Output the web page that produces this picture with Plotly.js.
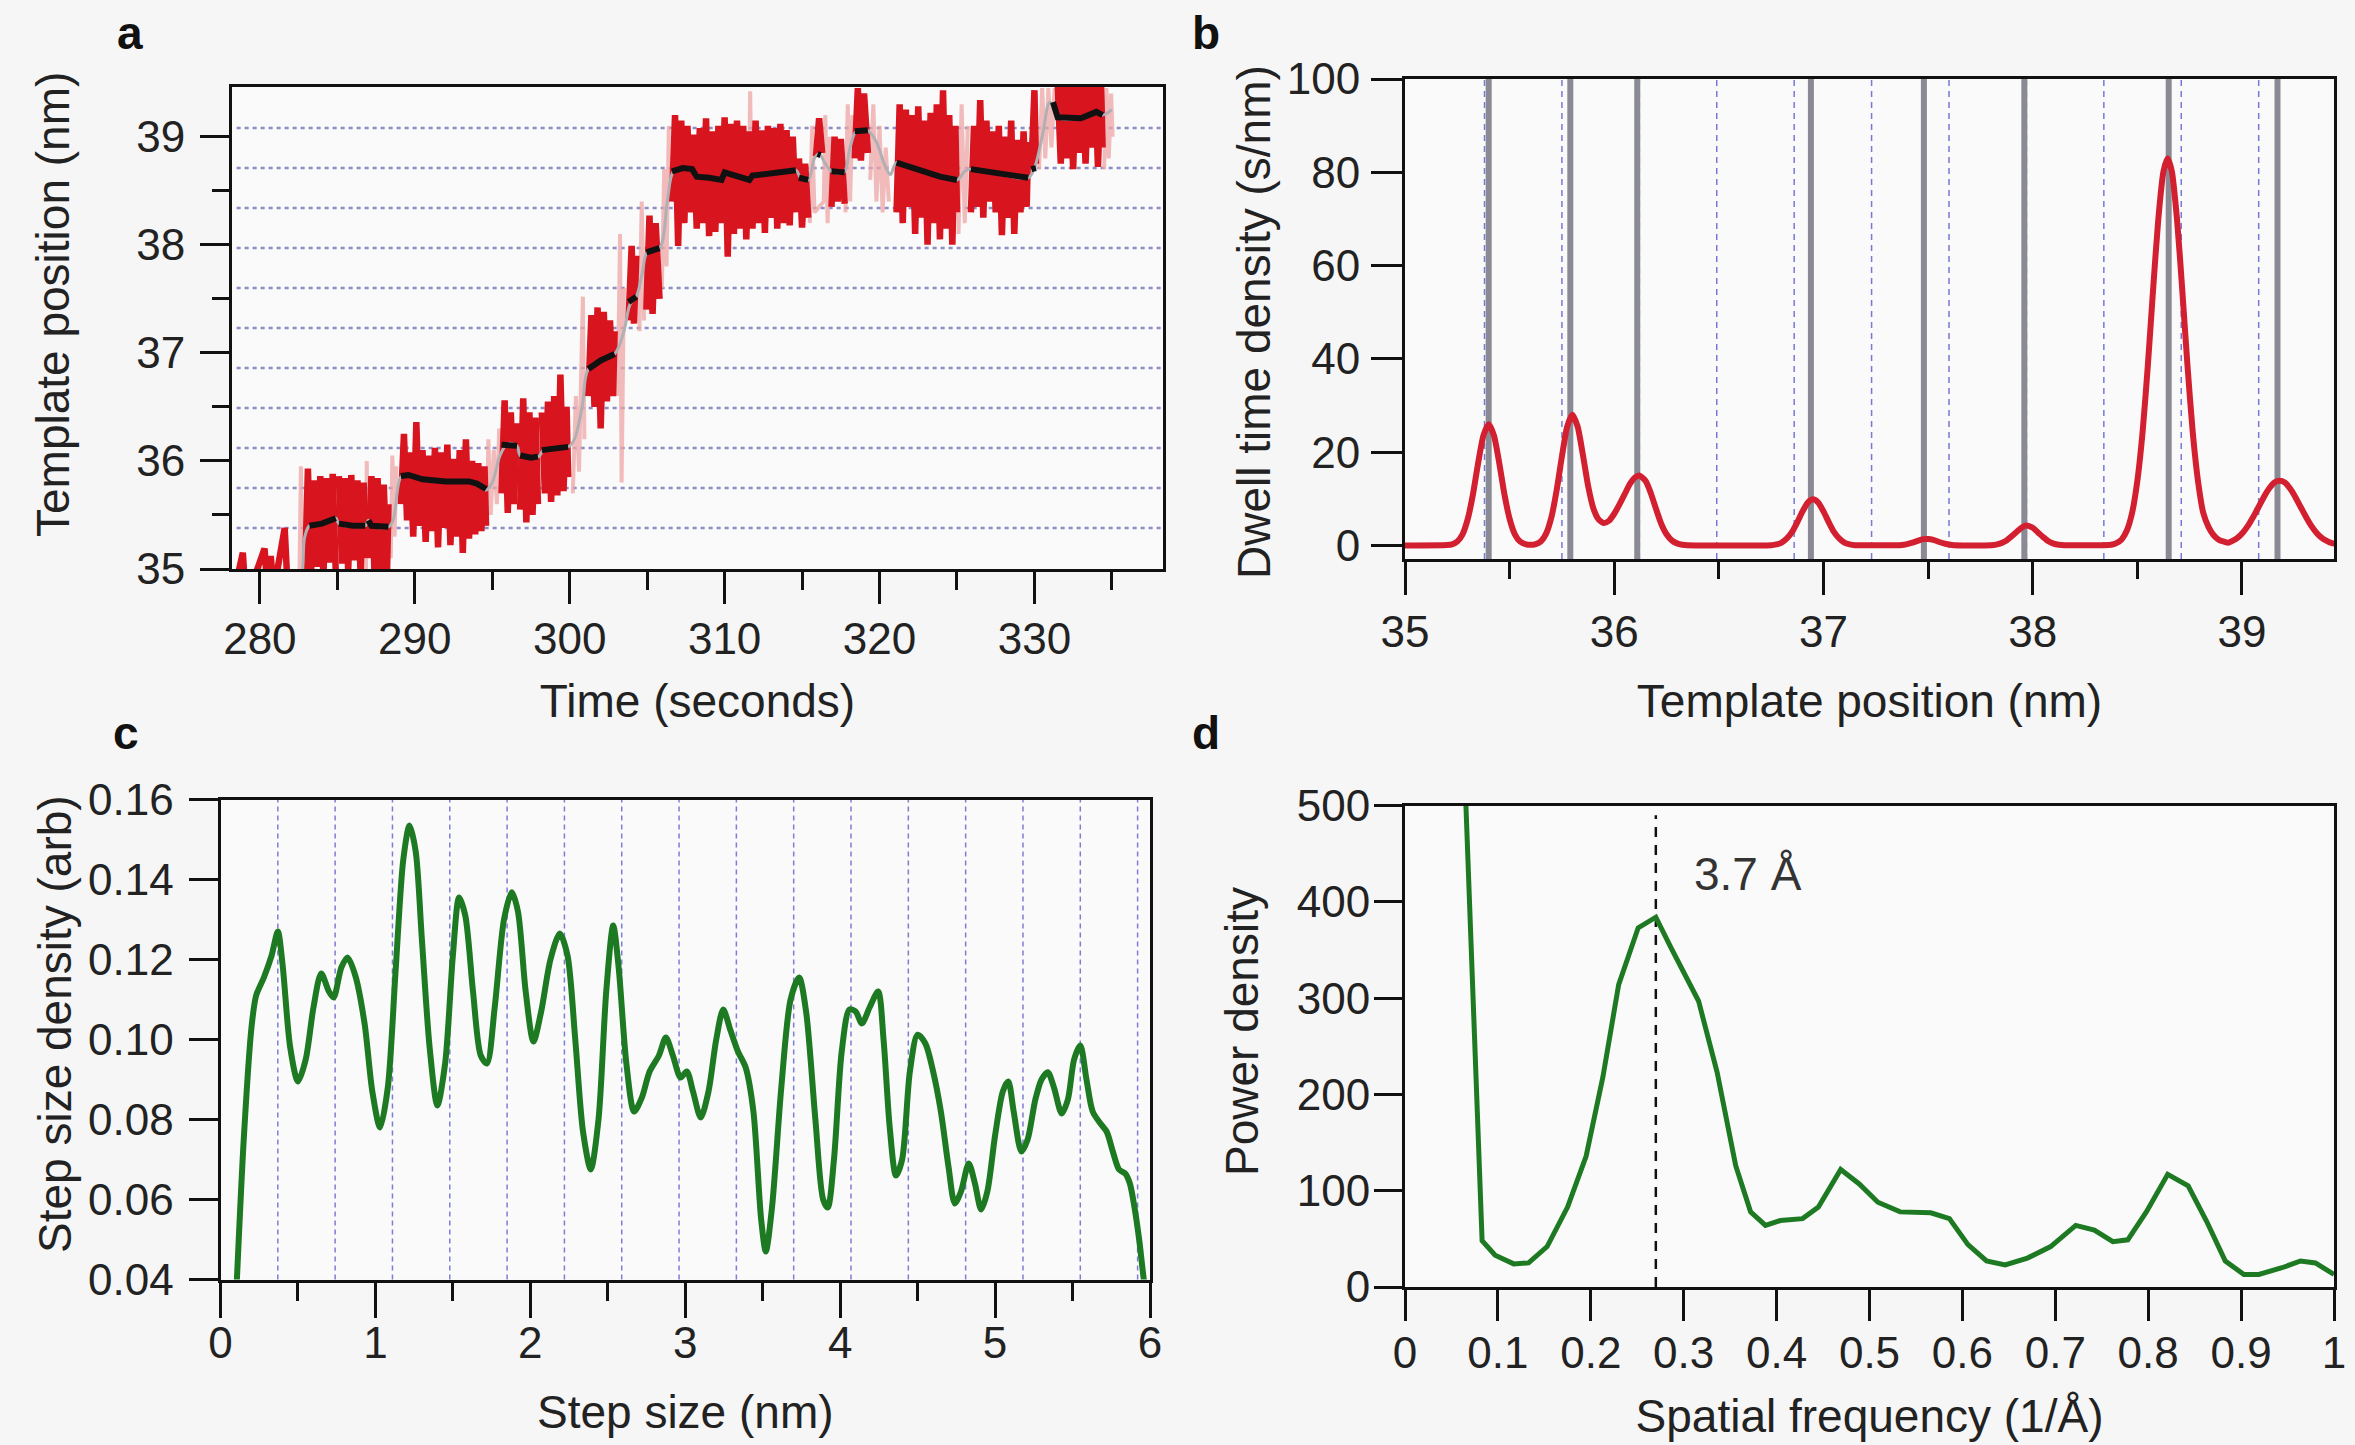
<!DOCTYPE html>
<html>
<head>
<meta charset="utf-8">
<script src="https://cdn.plot.ly/plotly-3.0.1.min.js"></script>
<style>html,body{margin:0;padding:0;background:#f6f6f6;}#chart{width:2355px;height:1445px;}</style>
</head>
<body>
<div id="chart"></div>
<script>
// ---------------- DATA ----------------
// Panel a: raw position trace (time s, position nm); null = gap
const rawTrace = [
[278.2,34.7],[278.9,35.15],[279.1,34.7],[280.3,35.19],[280.5,34.8],[280.7,35.12],[280.9,34.8],[281.6,35.38],[281.8,34.8],[282.2,null],
[282.9,34.9],[283.1,35.93],[283.3,34.95],[283.5,35.82],[283.7,35.02],[283.9,35.86],[284.1,34.92],[284.3,35.84],[284.5,35.06],[284.7,35.88],[284.9,34.96],[285.0,null],
[285.1,35.86],[285.3,35.05],[285.5,35.84],[285.7,34.98],[285.9,35.87],[286.1,35.08],[286.3,35.82],[286.5,34.95],[286.7,35.80],[286.8,35.10],[286.9,null],
[287.0,35.10],[287.2,35.86],[287.4,34.95],[287.6,35.84],[287.8,34.90],[288.0,35.78],[288.2,34.92],[288.3,35.60],[288.5,null],
[289.1,35.60],[289.3,36.25],[289.5,35.45],[289.7,36.08],[289.9,35.30],[290.1,36.36],[290.3,35.40],[290.5,36.10],[290.7,35.25],[290.9,36.05],[291.1,35.35],[291.3,36.12],[291.5,35.20],[291.7,36.08],[291.9,35.38],[292.1,36.15],[292.3,35.22],[292.5,36.02],[292.7,35.30],[292.9,36.10],[293.1,35.15],[293.3,36.20],[293.5,35.28],[293.7,36.00],[293.9,35.32],[294.1,35.98],[294.3,35.35],[294.5,35.95],[294.6,35.40],[294.8,null],
[295.6,35.70],[295.8,36.56],[296.0,35.52],[296.2,36.45],[296.4,35.60],[296.6,36.35],[296.7,null],
[296.8,35.55],[297.0,36.58],[297.2,35.43],[297.4,36.45],[297.6,35.50],[297.8,36.40],[297.95,35.60],[298.1,null],
[298.2,36.45],[298.4,35.70],[298.6,36.55],[298.8,35.62],[299.0,36.60],[299.2,35.68],[299.4,36.80],[299.6,35.72],[299.8,36.50],[299.9,35.85],[300.5,null],
[301.2,36.60],[301.4,37.35],[301.6,36.50],[301.8,37.42],[302.0,36.30],[302.2,37.38],[302.4,36.55],[302.6,37.30],[302.8,36.60],[302.9,37.20],[303.3,null],
[303.8,37.30],[304.0,37.99],[304.15,37.27],[304.3,37.90],[304.6,null],
[304.95,37.40],[305.15,38.27],[305.35,37.36],[305.55,38.20],[305.8,37.50],[306.2,null],
[306.6,38.40],[306.8,39.20],[307.0,37.99],[307.2,39.15],[307.4,38.20],[307.6,39.10],[307.85,38.30],[308.0,39.02],[308.2,38.15],[308.4,39.08],[308.6,38.20],[308.8,39.17],[309.0,38.08],[309.2,39.05],[309.4,38.12],[309.6,39.10],[309.8,38.20],[310.0,39.18],[310.2,37.89],[310.4,39.12],[310.6,38.10],[310.8,39.15],[311.0,38.15],[311.2,39.10],[311.4,38.05],[311.6,39.05],[311.8,38.15],[312.0,39.15],[312.2,38.20],[312.4,39.06],[312.6,38.11],[312.8,39.10],[313.0,38.25],[313.2,39.08],[313.4,38.15],[313.6,39.12],[313.8,38.20],[314.0,39.06],[314.2,38.18],[314.4,39.00],[314.6,38.30],[314.7,null],
[314.8,38.80],[315.0,38.16],[315.2,38.75],[315.4,38.25],[315.6,null],
[315.9,38.82],[316.1,39.17],[316.3,38.85],[316.6,null],
[316.9,38.35],[317.1,39.00],[317.3,38.40],[317.5,38.98],[317.75,38.38],[318.0,null],
[318.4,38.80],[318.6,39.45],[318.8,38.78],[319.0,39.40],[319.25,38.85],[320.0,null],
[321.1,38.30],[321.3,39.30],[321.5,38.20],[321.7,39.25],[321.9,38.35],[322.1,39.20],[322.3,38.10],[322.5,39.28],[322.7,38.25],[322.9,39.15],[323.1,38.00],[323.3,39.22],[323.5,38.20],[323.7,39.30],[323.9,38.05],[324.1,39.43],[324.3,38.15],[324.5,39.20],[324.7,38.00],[324.9,39.10],[325.0,38.30],[325.4,null],
[325.9,38.30],[326.1,39.10],[326.3,38.35],[326.5,39.34],[326.7,38.25],[326.9,39.15],[327.1,38.40],[327.3,39.05],[327.5,38.30],[327.7,39.10],[327.9,38.09],[328.1,39.00],[328.3,38.25],[328.5,39.15],[328.7,38.10],[328.9,38.97],[329.1,38.30],[329.3,39.05],[329.5,38.35],[329.6,38.95],
[329.8,38.70],[330.0,39.43],[330.1,38.75],[330.8,null],
[331.5,39.50],[331.7,38.75],[331.9,39.55],[332.1,38.80],[332.3,39.50],[332.5,38.70],[332.7,39.55],[332.9,38.85],[333.1,39.50],[333.3,38.75],[333.5,39.50],[333.7,38.90],[333.9,39.55],[334.1,38.72],[334.3,39.50],[334.4,38.90]
];
// Panel a: faint (unfiltered) excursions between dwells
const faintTrace = [
[282.55,34.9],[282.65,35.95],[282.75,35.0],[282.85,null],
[286.85,35.0],[286.9,36.0],[286.95,35.1],[287.0,null],
[288.45,35.1],[288.55,36.05],[288.7,35.3],[288.8,35.95],[288.9,null],
[294.65,35.4],[294.75,36.2],[294.9,35.5],[295.1,36.1],[295.3,35.6],[295.45,36.3],[295.5,null],
[300.2,35.7],[300.4,36.6],[300.6,35.9],[300.85,37.52],[300.95,36.2],[301.05,null],
[303.1,36.6],[303.25,38.1],[303.35,35.8],[303.5,37.6],[303.6,null],
[304.5,37.2],[304.65,38.4],[304.8,37.3],[304.9,null],
[305.95,37.6],[306.1,38.7],[306.25,37.8],[306.4,39.1],[306.5,null],
[311.55,38.3],[311.65,39.42],[311.75,38.4],[311.8,null],
[315.5,38.2],[315.65,39.1],[315.8,38.3],[316.4,38.4],[316.5,39.2],[316.65,38.2],[316.8,39.0],[316.85,null],
[317.8,38.3],[317.95,39.3],[318.1,38.4],[318.25,39.2],[318.3,null],
[319.4,38.6],[319.6,39.3],[319.8,38.4],[320.0,39.1],[320.2,38.3],[320.4,38.9],[320.6,38.4],[320.8,null],
[325.1,38.1],[325.3,39.3],[325.5,38.2],[325.7,39.1],[325.8,null],
[330.3,38.7],[330.5,39.45],[330.7,38.8],[330.9,39.45],[331.1,38.9],[331.3,39.45],[331.4,null],
[334.5,38.7],[334.65,39.45],[334.8,38.8],[334.95,39.4],[335.05,39.0]
];
// Panel a: smoothed trajectory (grey)
const smoothTrace = [
[278.2,34.75],[282.3,34.8],[282.9,35.3],[283.2,35.4],[284.0,35.42],[284.9,35.47],[285.1,35.42],[286.8,35.40],[287.0,35.45],[287.2,35.40],[288.3,35.39],[288.6,35.45],[289.1,35.85],[289.5,35.87],[290.5,35.83],[292.0,35.81],[293.5,35.81],[294.0,35.80],[294.6,35.73],[295.0,35.80],[295.5,36.05],[296.0,36.16],[296.6,36.14],[296.8,36.05],[297.5,36.03],[298.0,36.04],[298.3,36.10],[299.0,36.12],[299.9,36.13],[300.3,36.20],[300.8,36.50],[301.2,36.85],[302.0,36.93],[302.9,36.99],[303.5,37.20],[303.9,37.45],[304.3,37.52],[304.7,37.75],[305.0,37.93],[305.8,37.97],[306.3,38.40],[306.7,38.68],[307.3,38.71],[307.9,38.70],[308.2,38.63],[309.0,38.62],[309.8,38.60],[310.0,38.67],[310.8,38.63],[311.6,38.60],[311.8,38.64],[313.0,38.66],[314.6,38.69],[314.9,38.62],[315.4,38.60],[315.8,38.80],[316.1,38.84],[316.5,38.75],[316.9,38.68],[317.7,38.67],[318.1,38.90],[318.5,39.05],[319.2,39.06],[319.8,38.95],[320.3,38.75],[320.7,38.65],[321.1,38.76],[322.5,38.70],[323.9,38.63],[325.0,38.60],[325.5,38.68],[325.9,38.70],[327.5,38.66],[329.6,38.62],[330.0,38.71],[330.5,39.00],[331.0,39.32],[331.5,39.18],[333.0,39.17],[334.0,39.23],[334.4,39.20],[335.0,39.25]
];
// Panel a: dwell means (black)
const dwellMeans = [
[283.2,35.40],[284.0,35.42],[284.9,35.47],[285.0,null],
[285.1,35.42],[286.0,35.40],[286.8,35.40],[286.9,null],
[287.0,35.45],[287.2,35.40],[288.3,35.39],[288.5,null],
[289.1,35.86],[289.6,35.87],[290.5,35.83],[292.0,35.81],[293.5,35.81],[294.0,35.79],[294.6,35.74],[294.8,null],
[295.6,36.15],[296.6,36.14],[296.7,null],
[296.8,36.05],[297.5,36.03],[297.95,36.04],[298.1,null],
[298.2,36.10],[299.0,36.12],[299.9,36.13],[300.5,null],
[301.2,36.85],[302.0,36.93],[302.9,36.99],[303.3,null],
[303.8,37.47],[304.3,37.52],[304.6,null],
[304.95,37.93],[305.8,37.97],[306.2,null],
[306.6,38.68],[307.3,38.71],[307.9,38.70],[308.2,38.63],[309.0,38.62],[309.8,38.60],[310.0,38.67],[310.8,38.63],[311.6,38.60],[311.8,38.64],[313.0,38.66],[314.6,38.69],[314.7,null],
[314.8,38.62],[315.4,38.60],[315.6,null],
[316.0,38.84],[316.2,38.83],[316.6,null],
[316.9,38.68],[317.75,38.67],[318.0,null],
[318.4,39.05],[319.25,39.06],[320.0,null],
[321.1,38.76],[322.5,38.70],[323.9,38.63],[325.0,38.60],[325.4,null],
[325.9,38.70],[327.5,38.66],[329.6,38.62],[329.7,null],
[329.8,38.70],[330.1,38.71],[330.8,null],
[331.2,39.32],[331.5,39.18],[333.0,39.17],[334.0,39.23],[334.4,39.20]
];
// 3.7 Å lattice positions (nm)
const latticePositions = [35.38, 35.75, 36.12, 36.49, 36.86, 37.23, 37.60, 37.97, 38.34, 38.71, 39.08];
// Panel b: identified dwell positions (nm)
const dwellPositions = [35.40, 35.79, 36.11, 36.94, 37.48, 37.96, 38.65, 39.17];
// Panel b: dwell time density (position nm, s/nm)
const dwellDensity = [
[35.0,0],[35.2,0.1],[35.225,0.25],[35.25,0.85],[35.275,2.4],[35.3,5.7],[35.325,11],[35.35,17.8],[35.375,23.6],[35.4,26],[35.425,23.6],[35.45,17.8],[35.475,11],[35.5,5.7],[35.525,2.4],[35.55,0.85],[35.575,0.3],[35.6,0.15],
[35.625,0.3],[35.65,0.9],[35.675,2.6],[35.7,6.1],[35.725,11.9],[35.75,19.1],[35.775,25.5],[35.8,28],[35.825,25.5],[35.85,19.5],[35.875,12.8],[35.9,8.0],[35.925,5.6],[35.95,4.8],[35.975,5.3],
[36.0,6.8],[36.025,8.8],[36.05,11.0],[36.075,13.2],[36.1,14.6],[36.12,15],[36.15,13.8],[36.175,11.2],[36.2,7.8],[36.225,4.6],[36.25,2.4],[36.275,1.1],[36.3,0.45],[36.325,0.15],[36.35,0.05],
[36.75,0.07],[36.775,0.23],[36.8,0.6],[36.825,1.5],[36.85,2.9],[36.875,5.0],[36.9,7.3],[36.925,9.2],[36.95,9.9],[36.975,9.2],[37.0,7.3],[37.025,5.0],[37.05,2.9],[37.075,1.5],[37.1,0.6],[37.125,0.23],[37.15,0.07],
[37.375,0.1],[37.4,0.3],[37.425,0.6],[37.45,1.0],[37.475,1.35],[37.5,1.4],[37.525,1.2],[37.55,0.8],[37.575,0.45],[37.6,0.2],[37.625,0.05],
[37.8,0.06],[37.825,0.19],[37.85,0.5],[37.875,1.07],[37.9,2.0],[37.925,3.0],[37.95,3.9],[37.97,4.3],[38.0,3.8],[38.025,2.8],[38.05,1.8],[38.075,0.9],[38.1,0.4],[38.125,0.15],[38.15,0.05],
[38.375,0.16],[38.4,0.5],[38.425,1.3],[38.45,3.2],[38.475,7.0],[38.5,13.8],[38.525,24.2],[38.55,38.4],[38.575,54.6],[38.6,69.8],[38.625,80.2],[38.645,83],[38.665,80.2],[38.69,69.8],[38.715,54.6],[38.74,38.4],[38.765,24.2],[38.79,13.8],[38.815,7.0],[38.84,4.0],[38.865,2.2],[38.89,1.2],[38.915,0.8],[38.935,0.6],
[38.955,1.0],[38.98,1.7],[39.005,2.8],[39.03,4.3],[39.055,6.2],[39.08,8.3],[39.105,10.4],[39.13,12.2],[39.155,13.5],[39.18,13.9],[39.205,13.5],[39.23,12.2],[39.255,10.4],[39.28,8.3],[39.305,6.2],[39.33,4.3],[39.355,2.8],[39.38,1.7],[39.405,1.0],[39.43,0.5],[39.45,0.4]
];
// Panel c: 3.7 Å multiples (nm)
const stepMultiples = [0.37, 0.74, 1.11, 1.48, 1.85, 2.22, 2.59, 2.96, 3.33, 3.70, 4.07, 4.44, 4.81, 5.18, 5.55, 5.92];
// Panel c: step size density (nm, arb)
const stepDensity = [
[0.10,0.035],[0.15,0.075],[0.20,0.103],[0.23,0.111],[0.28,0.1155],[0.33,0.121],[0.37,0.127],[0.40,0.119],[0.45,0.098],[0.50,0.0895],[0.55,0.095],[0.60,0.108],[0.65,0.1165],[0.70,0.112],[0.73,0.1105],[0.78,0.118],[0.82,0.1205],[0.87,0.116],[0.93,0.104],[0.98,0.087],
[1.03,0.078],[1.08,0.088],[1.13,0.117],[1.18,0.145],[1.22,0.1535],[1.26,0.147],[1.30,0.125],[1.35,0.098],[1.40,0.0835],[1.45,0.094],[1.50,0.121],[1.54,0.1355],[1.58,0.131],[1.63,0.112],[1.68,0.096],[1.72,0.094],[1.77,0.108],[1.83,0.130],[1.88,0.1368],[1.92,0.132],[1.97,0.112],
[2.02,0.0995],[2.07,0.107],[2.13,0.120],[2.19,0.1265],[2.24,0.121],[2.29,0.100],[2.34,0.077],[2.39,0.0675],[2.44,0.080],[2.49,0.112],[2.535,0.1285],[2.57,0.118],[2.62,0.094],[2.67,0.082],[2.72,0.0855],[2.77,0.092],[2.83,0.096],[2.875,0.1005],[2.92,0.096],[2.97,0.0905],
[3.01,0.092],[3.05,0.087],[3.10,0.0805],[3.15,0.087],[3.20,0.100],[3.245,0.1075],[3.29,0.1025],[3.34,0.097],[3.39,0.093],[3.44,0.082],[3.49,0.055],[3.52,0.047],[3.56,0.058],[3.62,0.088],[3.68,0.110],[3.735,0.1155],[3.78,0.107],[3.84,0.080],[3.89,0.060],[3.92,0.058],[3.96,0.070],
[4.01,0.097],[4.06,0.1075],[4.10,0.107],[4.14,0.104],[4.19,0.108],[4.245,0.112],[4.28,0.100],[4.32,0.078],[4.36,0.066],[4.40,0.070],[4.45,0.092],[4.50,0.1012],[4.55,0.099],[4.60,0.092],[4.65,0.082],[4.70,0.068],[4.74,0.059],[4.78,0.062],[4.83,0.069],[4.87,0.064],[4.91,0.0575],[4.95,0.062],
[5.00,0.076],[5.05,0.087],[5.085,0.0895],[5.12,0.082],[5.17,0.072],[5.21,0.075],[5.26,0.085],[5.30,0.090],[5.34,0.0918],[5.38,0.088],[5.43,0.0815],[5.47,0.085],[5.51,0.095],[5.55,0.0985],[5.59,0.090],[5.63,0.082],[5.68,0.079],[5.72,0.077],[5.76,0.072],[5.80,0.0675],[5.84,0.0665],[5.87,0.064],[5.90,0.058],[5.93,0.050],[5.96,0.040],[5.98,0.035]
];
// Panel d: power spectrum (1/Å, power density)
const powerSpectrum = [
[0.0652,510],[0.083,48],[0.097,33],[0.117,24],[0.133,25],[0.153,42],[0.175,83],[0.195,136],[0.213,218],[0.23,314],[0.251,373],[0.270,384],[0.286,353],[0.316,297],[0.336,223],[0.356,126],[0.372,78],[0.388,64],[0.404,69],[0.428,71],[0.445,83],[0.469,122],[0.489,107],[0.509,88],[0.533,78],[0.566,77],[0.586,71],[0.606,44],[0.626,27],[0.646,23],[0.670,30],[0.695,42],[0.722,64],[0.742,59],[0.762,47],[0.778,49],[0.798,78],[0.821,117],[0.843,105],[0.863,68],[0.883,27],[0.903,13],[0.919,13],[0.944,20],[0.964,27],[0.98,25],[1.0,13]
];
const peakFrequency = 0.27;
const peakLabel = '3.7 Å';

// ---------------- LAYOUT HELPERS ----------------
const W = 2355, H = 1445;
const FONT = '"Liberation Sans", Arial, Helvetica, sans-serif';
const TXT = '#222';
const xs = a => a.map(p => p[0]);
const ys = a => a.map(p => p[1]);
const hx = (a, b) => [a / W, b / W];
const vy = (top, bottom) => [1 - bottom / H, 1 - top / H];

function ax(o) {
  return Object.assign({
    showline: true, mirror: true, linecolor: '#111', linewidth: 3,
    ticks: 'outside', tickcolor: '#111', tickwidth: 3, ticklen: 30,
    showgrid: false, zeroline: false, fixedrange: true,
    tickfont: { family: FONT, size: 44, color: TXT },
    ticklabelstandoff: 6
  }, o);
}
function ttl(text, standoff) {
  return { text: text, standoff: standoff, font: { family: FONT, size: 46, color: TXT } };
}
function minor(dtick, len) {
  return { dtick: dtick, ticks: 'outside', ticklen: len, tickwidth: 3, tickcolor: '#111', showgrid: false };
}

const traces = [
  { x: xs(faintTrace), y: ys(faintTrace), xaxis: 'x', yaxis: 'y', mode: 'lines', connectgaps: false,
    line: { color: 'rgba(238,165,165,0.75)', width: 4 }, hoverinfo: 'skip' },
  { x: xs(rawTrace), y: ys(rawTrace), xaxis: 'x', yaxis: 'y', mode: 'lines', connectgaps: false,
    line: { color: '#d8141f', width: 6.5 }, hoverinfo: 'skip' },
  { x: xs(smoothTrace), y: ys(smoothTrace), xaxis: 'x', yaxis: 'y', mode: 'lines',
    line: { color: '#b0b0b4', width: 3, shape: 'spline' }, hoverinfo: 'skip' },
  { x: xs(dwellMeans), y: ys(dwellMeans), xaxis: 'x', yaxis: 'y', mode: 'lines', connectgaps: false,
    line: { color: '#111', width: 6 }, hoverinfo: 'skip' },
  { x: xs(dwellDensity), y: ys(dwellDensity), xaxis: 'x2', yaxis: 'y2', mode: 'lines',
    line: { color: '#d32030', width: 6, shape: 'spline', smoothing: 0.6 } },
  { x: xs(stepDensity), y: ys(stepDensity), xaxis: 'x3', yaxis: 'y3', mode: 'lines',
    line: { color: '#1d7a22', width: 6, shape: 'spline', smoothing: 0.8 } },
  { x: xs(powerSpectrum), y: ys(powerSpectrum), xaxis: 'x4', yaxis: 'y4', mode: 'lines',
    line: { color: '#1d7a22', width: 5 } }
];

const shapes = [];
latticePositions.forEach(v => shapes.push({ type: 'line', xref: 'x domain', yref: 'y', x0: 0.005, x1: 1, y0: v, y1: v,
  layer: 'below', line: { color: 'rgb(140,140,200)', width: 2.5, dash: '4px,4px' } }));
latticePositions.forEach(v => shapes.push({ type: 'line', xref: 'x2', yref: 'y2 domain', x0: v, x1: v, y0: 0, y1: 1,
  layer: 'below', line: { color: 'rgb(120,120,215)', width: 1.5, dash: '6px,5px' } }));
dwellPositions.forEach(v => shapes.push({ type: 'line', xref: 'x2', yref: 'y2 domain', x0: v, x1: v, y0: 0, y1: 1,
  layer: 'below', line: { color: '#8a8a94', width: 6 } }));
stepMultiples.forEach(v => shapes.push({ type: 'line', xref: 'x3', yref: 'y3 domain', x0: v, x1: v, y0: 0, y1: 1,
  layer: 'below', line: { color: 'rgb(125,125,215)', width: 1.5, dash: '5px,4px' } }));
shapes.push({ type: 'line', xref: 'x4', yref: 'y4', x0: peakFrequency, x1: peakFrequency, y0: 0, y1: 490,
  layer: 'below', line: { color: '#111', width: 2.5, dash: '10px,8px' } });

const letter = (t, x, y) => ({ text: '<b>' + t + '</b>', xref: 'paper', yref: 'paper', x: x / W, y: 1 - y / H,
  xanchor: 'center', yanchor: 'middle', showarrow: false, font: { family: FONT, size: 46, color: '#111' } });
const ytitle = (t, x, y) => ({ text: t, xref: 'paper', yref: 'paper', x: x / W, y: 1 - y / H, textangle: -90,
  xanchor: 'center', yanchor: 'middle', showarrow: false, font: { family: FONT, size: 46, color: TXT } });

const layout = {
  width: W, height: H,
  margin: { l: 0, r: 0, t: 0, b: 0 },
  paper_bgcolor: '#f6f6f6', plot_bgcolor: '#fafafa',
  showlegend: false,
  xaxis: ax({ domain: hx(232, 1163), anchor: 'y', range: [278.2, 338.3], dtick: 10, tick0: 280, ticklen: 32,
    ticklabelstandoff: -3, minor: minor(5, 18), title: ttl('Time (seconds)', 24) }),
  yaxis: ax({ domain: vy(87, 569), anchor: 'x', range: [35, 39.46], dtick: 1, tick0: 35, ticklen: 29,
    minor: minor(0.5, 17) }),
  xaxis2: ax({ domain: hx(1405, 2334), anchor: 'y2', range: [35, 39.44], dtick: 1, tick0: 35, ticklen: 33,
    ticklabelstandoff: -1, minor: minor(0.5, 17), title: ttl('Template position (nm)', 31) }),
  yaxis2: ax({ domain: vy(79, 559), anchor: 'x2', range: [-2.9, 100], dtick: 20, tick0: 0, ticklen: 31,
    ticklabelstandoff: 2 }),
  xaxis3: ax({ domain: hx(220.5, 1150), anchor: 'y3', range: [0, 6], dtick: 1, tick0: 0, ticklen: 35,
    ticklabelstandoff: -12, minor: minor(0.5, 18), title: ttl('Step size (nm)', 30) }),
  yaxis3: ax({ domain: vy(799.5, 1279.5), anchor: 'x3', range: [0.04, 0.16], dtick: 0.02, tick0: 0.04, ticklen: 29,
    tickformat: '.2f' }),
  xaxis4: ax({ domain: hx(1405, 2334), anchor: 'y4', range: [0, 1], dtick: 0.1, tick0: 0, ticklen: 31,
    ticklabelstandoff: -6, title: ttl('Spatial frequency (1/Å)', 25) }),
  yaxis4: ax({ domain: vy(805.5, 1287), anchor: 'x4', range: [0, 500], dtick: 100, tick0: 0, ticklen: 28,
    ticklabelstandoff: -5 }),
  shapes: shapes,
  annotations: [
    letter('a', 130, 33), letter('b', 1206, 33), letter('c', 126, 733), letter('d', 1206, 733),
    ytitle('Template position (nm)', 53, 305),
    ytitle('Dwell time density (s/nm)', 1254, 322),
    ytitle('Step size density (arb)', 55, 1024),
    ytitle('Power density', 1242, 1032),
    { text: peakLabel, xref: 'x4', yref: 'y4', x: 0.369, y: 429, xanchor: 'center', yanchor: 'middle', showarrow: false,
      font: { family: FONT, size: 46, color: '#333' } }
  ]
};

Plotly.newPlot('chart', traces, layout, { displayModeBar: false, staticPlot: true });
</script>
</body>
</html>
